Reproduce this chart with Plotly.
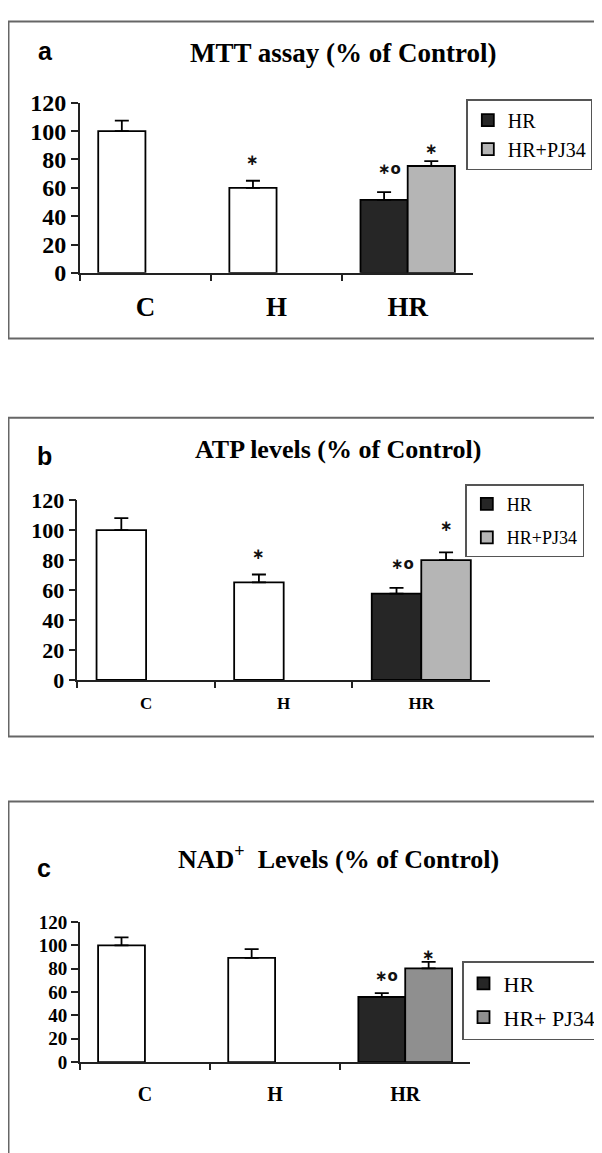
import plotly.graph_objects as go

# ---------------- data ----------------
categories = ["C", "H", "HR"]
series_names = ["HR", "HR+PJ34"]

# panel a: MTT assay (% of control)
mtt_values = [100, 60, 51.5]
mtt_errors = [7.4, 5.0, 5.5]
mtt_pj34 = [75.4]
mtt_pj34_err = [3.5]

# panel b: ATP levels (% of control)
atp_values = [100, 65.2, 57.6]
atp_errors = [8.0, 5.2, 3.9]
atp_pj34 = [80.0]
atp_pj34_err = [5.2]

# panel c: NAD+ levels (% of control)
nad_values = [100, 89.3, 55.8]
nad_errors = [6.9, 7.5, 3.3]
nad_pj34 = [80.4]
nad_pj34_err = [5.5]

# significance marks: (category position, y value, text)
mtt_marks = [(0.82, 79.8, "∗"), (1.86, 73.4, "∗o"), (2.18, 87.4, "∗")]
atp_marks = [(0.82, 84.1, "∗"), (1.86, 77.6, "∗o"), (2.18, 102.6, "∗")]
nad_marks = [(1.86, 73.9, "∗o"), (2.18, 91.5, "∗")]

yticks = [0, 20, 40, 60, 80, 100, 120]

# the page adds the default 8px body margin
OFF = 8
W, H = 602 - OFF, 1153 - OFF
SERIF = "Liberation Serif, Times New Roman, serif"
SANS = "Liberation Sans, Arial, sans-serif"


def px(x):
    return (x - OFF) / W


def py(y):
    return 1 - (y - OFF) / H


panels = [
    dict(vals=mtt_values, errs=mtt_errors, pj=mtt_pj34, pje=mtt_pj34_err, marks=mtt_marks,
         gray="#b5b5b5", legname="HR+PJ34", ax="", leg="legend",
         xdom=(80.6, 478), ydom=(265.7, 91.7), tickfont=24, catfont=27, standoff=9,
         legfont=20, legpos=(471, 88), leggap=0, title="MTT assay (% of Control)", tpos=(346.5, 41),
         tsize=27, letter="a", lpos=(46, 39), frame=(8.5, 333)),
    dict(vals=atp_values, errs=atp_errors, pj=atp_pj34, pje=atp_pj34_err, marks=atp_marks,
         gray="#b5b5b5", legname="HR+PJ34", ax="2", leg="legend2",
         xdom=(78, 495), ydom=(682.3, 498.3), tickfont=22, catfont=17, standoff=7,
         legfont=18, legpos=(470, 482), leggap=7, title="ATP levels (% of Control)", tpos=(341, 446),
         tsize=26, letter="b", lpos=(45, 453), frame=(414, 740)),
    dict(vals=nad_values, errs=nad_errors, pj=nad_pj34, pje=nad_pj34_err, marks=nad_marks,
         gray="#8f8f8f", legname="HR+ PJ34", ax="3", leg="legend3",
         xdom=(80.6, 475), ydom=(1073.3, 930), tickfont=19, catfont=20, standoff=13,
         legfont=22, legpos=(467, 970), leggap=2, title="NAD<sup>+</sup>  Levels (% of Control)",
         tpos=(342, 864), tsize=26, letter="c", lpos=(44, 875), frame=(806.7, 1170)),
]

fig = go.Figure()
annotations = []
shapes = []
layout = {}

for p in panels:
    xa = "x" + p["ax"]
    ya = "y" + p["ax"]
    errkw = dict(type="data", symmetric=False, color="black", thickness=1.8, width=7)
    bar_line = dict(color="black", width=1.8)
    # white bars (C, H)
    fig.add_trace(go.Bar(
        x=categories[:2], y=p["vals"][:2], xaxis=xa, yaxis=ya, offsetgroup="1",
        marker=dict(color="white", line=bar_line),
        error_y=dict(array=p["errs"][:2], arrayminus=[0, 0], **errkw),
        showlegend=False, legend=p["leg"], hoverinfo="skip"))
    # HR bar
    fig.add_trace(go.Bar(
        x=categories[2:], y=p["vals"][2:], xaxis=xa, yaxis=ya, offsetgroup="1",
        name=series_names[0], legendgroup="g1",
        marker=dict(color="#262626", line=bar_line),
        error_y=dict(array=p["errs"][2:], arrayminus=[0], **errkw),
        legend=p["leg"]))
    # HR+PJ34 bar
    fig.add_trace(go.Bar(
        x=categories[2:], y=p["pj"], xaxis=xa, yaxis=ya, offsetgroup="2",
        name=p["legname"], legendgroup="g2",
        marker=dict(color=p["gray"], line=bar_line),
        error_y=dict(array=p["pje"], arrayminus=[0], **errkw),
        legend=p["leg"]))

    x0, x1 = p["xdom"]
    yb, yt = p["ydom"]
    layout["xaxis" + p["ax"]] = dict(
        domain=[px(x0), px(x1)], anchor=ya, type="category",
        categoryorder="array", categoryarray=categories,
        showline=True, linecolor="#222222", linewidth=1.5, ticks="outside",
        tickson="boundaries", ticklen=6, tickcolor="#222222", tickwidth=1.5,
        showgrid=False, zeroline=False, ticklabelstandoff=p["standoff"],
        tickfont=dict(family=SERIF, size=p["catfont"], color="black", weight="bold"))
    layout["yaxis" + p["ax"]] = dict(
        domain=[py(yb), py(yt)], anchor=xa, range=[0, 120],
        tickmode="array", tickvals=yticks, ticktext=[str(v) for v in yticks],
        showline=True, linecolor="#222222", linewidth=1.5,
        ticks="outside", ticklen=7, tickcolor="#222222", tickwidth=1.5,
        showgrid=False, zeroline=False,
        tickfont=dict(family=SERIF, size=p["tickfont"], color="black", weight="bold"))
    layout[p["leg"]] = dict(
        x=px(p["legpos"][0]), y=py(p["legpos"][1]), xanchor="left", yanchor="top",
        bordercolor="#555555", borderwidth=1.5, bgcolor="white", tracegroupgap=p["leggap"],
        font=dict(family=SERIF, size=p["legfont"], color="black"))

    for (mx, my, mt) in p["marks"]:
        annotations.append(dict(x=mx, y=my, xref=xa, yref=ya, text=mt, showarrow=False,
                                font=dict(family="DejaVu Sans", size=15, color="#111111",
                                          weight="bold"),
                                xanchor="center", yanchor="middle"))
    annotations.append(dict(x=px(p["tpos"][0]), y=py(p["tpos"][1]), xref="paper", yref="paper",
                            text="<b>" + p["title"] + "</b>", showarrow=False,
                            font=dict(family=SERIF, size=p["tsize"], color="black"),
                            xanchor="center", yanchor="middle"))
    annotations.append(dict(x=px(p["lpos"][0]), y=py(p["lpos"][1]), xref="paper", yref="paper",
                            text="<b>" + p["letter"] + "</b>", showarrow=False,
                            font=dict(family=SANS, size=25, color="black"),
                            xanchor="center", yanchor="middle"))
    f0, f1 = p["frame"]
    shapes.append(dict(type="rect", xref="paper", yref="paper",
                       x0=px(8.5), x1=1.02, y0=py(f1), y1=py(f0),
                       line=dict(color="#666666", width=2), fillcolor="rgba(0,0,0,0)",
                       layer="below"))

fig.update_layout(
    width=W, height=H, margin=dict(l=0, r=0, t=0, b=0),
    paper_bgcolor="white", plot_bgcolor="white",
    barmode="group", bargap=0.28, bargroupgap=0,
    annotations=annotations, shapes=shapes, **layout)

fig.write_html("out.html")
